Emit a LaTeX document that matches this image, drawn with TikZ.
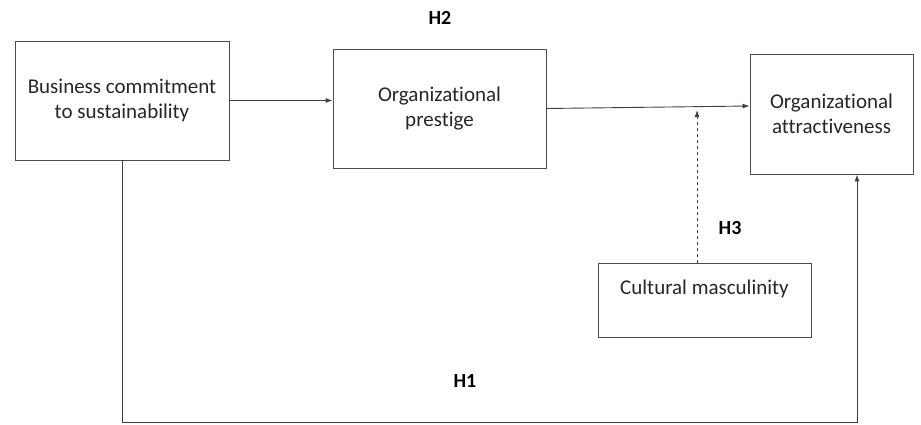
\documentclass[tikz,border=0pt]{standalone}
\usepackage{fontspec}
\setmainfont{Carlito}[Ligatures={NoCommon}]
\usetikzlibrary{arrows.meta,calc}
\begin{document}
\begin{tikzpicture}[x=1pt,y=-1pt,
  box/.style={draw=black!70,line width=0.9pt,rectangle,align=center,inner sep=0pt,
    font=\fontsize{21}{25}\selectfont,text=black!85},
  conn/.style={draw=black!75,line width=0.9pt,-{Latex[length=7pt,width=5pt]}},
  hlabel/.style={font=\fontsize{20}{24}\selectfont\bfseries,text=black}]
\useasboundingbox (0,0) rectangle (921,424);
\node[box,minimum width=214pt,minimum height=119pt] (b1) at (122,100.5) {Business commitment\\to sustainability};
\node[box,minimum width=213pt,minimum height=119pt] (b2) at (439.5,108.5) {Organizational\\prestige};
\node[box,minimum width=163pt,minimum height=120pt] (b3) at (831.5,114) {Organizational\\attractiveness};
\node[box,minimum width=213pt,minimum height=74pt] (cm) at (704.5,300) {Cultural masculinity\\\mbox{}};
\node[hlabel] (h2) at (440,18) {H2};
\node[hlabel] (h3) at (730,228) {H3};
\node[hlabel] (h1) at (465,381) {H1};
\coordinate (mod) at (697,110);
\coordinate (corner) at (857,422);
\draw[conn] (b1.east) -- (b1.east -| b2.west);
\draw[conn] (b2.east) -- ([yshift=8pt]b3.west);
\draw[conn,dashed] ([xshift=-7.5pt]cm.north) -- (mod);
\draw[conn] (b1.south) |- (corner) -- (corner |- b3.south);
\end{tikzpicture}
\end{document}
